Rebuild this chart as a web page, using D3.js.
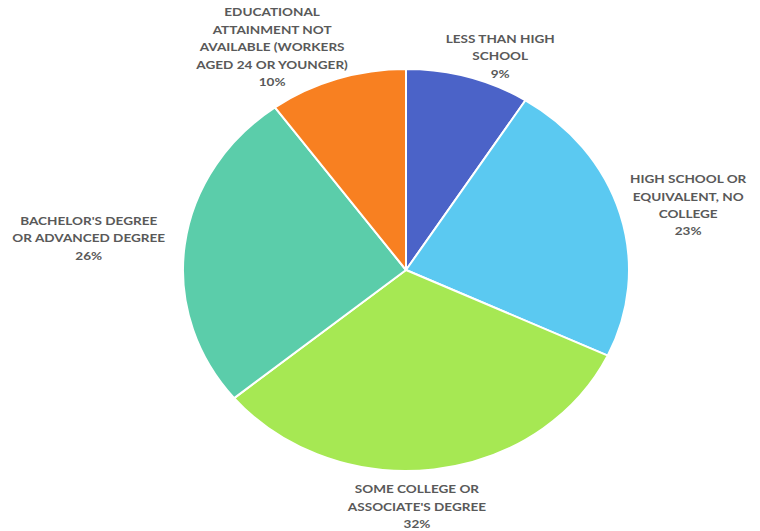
<!DOCTYPE html>
<html>
<head>
<meta charset="utf-8">
<script src="https://cdn.jsdelivr.net/npm/d3@7"></script>
<style>
  html, body { margin: 0; padding: 0; background: #ffffff; }
  svg { display: block; }
  .lbl { font-family: Lato, "Open Sans", sans-serif; font-weight: 700; font-size: 12px; fill: #595959; }
</style>
</head>
<body>
<svg id="chart" width="760" height="531"></svg>
<script>
// Workers by educational attainment (share of total, %)
const categories = [
  "LESS THAN HIGH SCHOOL",
  "HIGH SCHOOL OR EQUIVALENT, NO COLLEGE",
  "SOME COLLEGE OR ASSOCIATE'S DEGREE",
  "BACHELOR'S DEGREE OR ADVANCED DEGREE",
  "EDUCATIONAL ATTAINMENT NOT AVAILABLE (WORKERS AGED 24 OR YOUNGER)"
];
const values = [9, 23, 32, 26, 10];

// Label text broken into lines as displayed
const labelLines = [
  ["LESS THAN HIGH", "SCHOOL"],
  ["HIGH SCHOOL OR", "EQUIVALENT, NO", "COLLEGE"],
  ["SOME COLLEGE OR", "ASSOCIATE'S DEGREE"],
  ["BACHELOR'S DEGREE", "OR ADVANCED DEGREE"],
  ["EDUCATIONAL", "ATTAINMENT NOT", "AVAILABLE (WORKERS", "AGED 24 OR YOUNGER)"]
];

const colors = ["#4b63c8", "#5bc9f1", "#a6e853", "#5bcdaa", "#f88021"];

// Label nudges from the slice's outer edge (layout only)
const labelNudge = [[32, -21], [68, -9], [-17, 37], [-96, -7], [-65, -32]];

const cx = 406, cy = 270, r = 201, stretchX = 223 / 201;
const textStretch = 1.13;
const lineH = 17.4;

const svg = d3.select("#chart");
const data = categories.map((c, i) => ({ category: c, value: values[i], lines: labelLines[i] }));

const pie = d3.pie().value(d => d.value).sort(null);
const arcs = pie(data);
const arc = d3.arc().innerRadius(0).outerRadius(r);

const color = d3.scaleOrdinal().domain(categories).range(colors);

// Pie group, widened horizontally into an ellipse
const g = svg.append("g")
  .attr("transform", `translate(${cx},${cy}) scale(${stretchX},1)`);

g.selectAll("path")
  .data(arcs)
  .join("path")
  .attr("d", arc)
  .attr("fill", d => color(d.data.category))
  .attr("stroke", "#ffffff")
  .attr("stroke-width", 2)
  .attr("vector-effect", "non-scaling-stroke")
  .attr("stroke-linejoin", "round");

// Labels placed outside each slice
const labels = svg.append("g");
arcs.forEach((a, i) => {
  const mid = (a.startAngle + a.endAngle) / 2;
  const ex = cx + r * stretchX * Math.sin(mid);
  const ey = cy - r * Math.cos(mid);
  const x = ex + labelNudge[i][0];
  const yc = ey + labelNudge[i][1];
  const lines = a.data.lines.concat([a.data.value + "%"]);
  const y0 = -(lines.length - 1) * lineH / 2;
  const t = labels.append("text")
    .attr("class", "lbl")
    .attr("text-anchor", "middle")
    .attr("transform", `translate(${x},${yc}) scale(${textStretch},1)`);
  lines.forEach((ln, k) => {
    t.append("tspan")
      .attr("x", 0)
      .attr("y", y0 + k * lineH)
      .attr("dy", "0.36em")
      .text(ln);
  });
});
</script>
</body>
</html>
